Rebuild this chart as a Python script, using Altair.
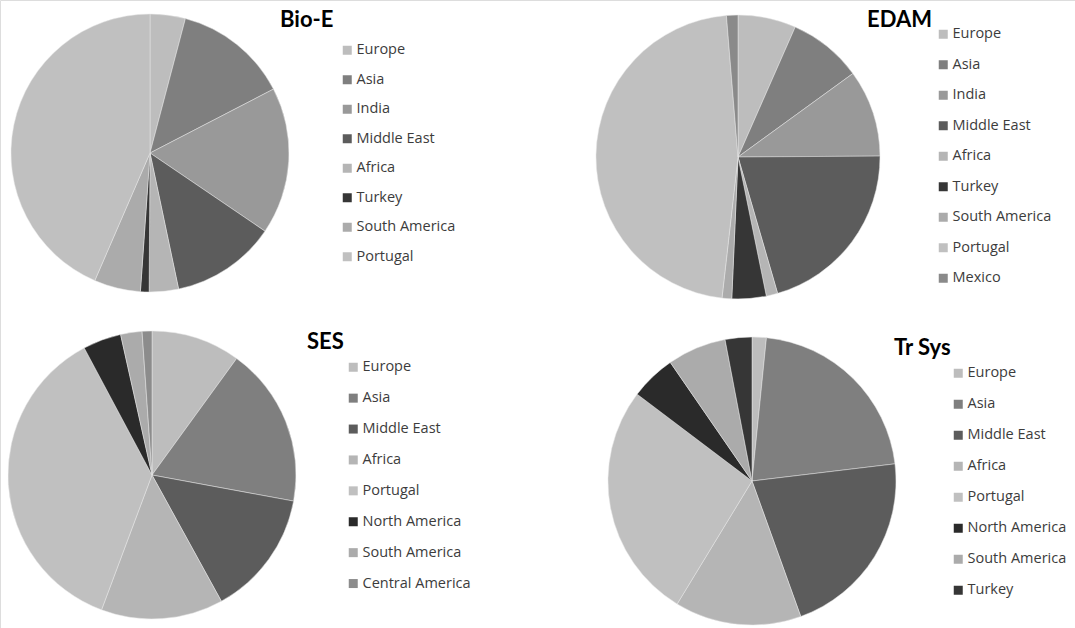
import altair as alt
import pandas as pd

# ---- data (percent shares) ----
bio_regions = ["Europe", "Asia", "India", "Middle East", "Africa", "Turkey", "South America", "Portugal"]
bio_values = [4.1, 13.3, 17.1, 12.2, 3.4, 1.0, 5.4, 43.5]

edam_regions = ["Europe", "Asia", "India", "Middle East", "Africa", "Turkey", "South America", "Portugal", "Mexico"]
edam_values = [6.6, 8.4, 9.9, 20.6, 1.3, 3.9, 1.1, 46.9, 1.3]

ses_regions = ["Europe", "Asia", "Middle East", "Africa", "Portugal", "North America", "South America", "Central America"]
ses_values = [10.0, 17.9, 14.1, 13.7, 36.5, 4.3, 2.4, 1.1]

tr_regions = ["Europe", "Asia", "Middle East", "Africa", "Portugal", "North America", "South America", "Turkey"]
tr_values = [1.6, 21.5, 21.4, 14.2, 26.6, 5.1, 6.6, 3.0]

titles = ["Bio-E", "EDAM", "SES", "Tr Sys"]

# grey shades per region
shade = {
    "Europe": "#bdbdbd",
    "Asia": "#7f7f7f",
    "India": "#999999",
    "Middle East": "#5c5c5c",
    "Africa": "#b5b5b5",
    "Turkey": "#363636",
    "South America": "#ababab",
    "Portugal": "#c0c0c0",
    "Mexico": "#8a8a8a",
    "North America": "#2a2a2a",
    "Central America": "#8c8c8c",
}

TITLE_FONT = "Lato"
LABEL_FONT = "Open Sans"


def pie(regions, values, cx, cy, r, lx, ly, row_pad):
    df = pd.DataFrame({"region": regions, "share": values, "idx": list(range(len(regions)))})
    return (
        alt.Chart(df)
        .mark_arc(radius=r, stroke="#e6e6e6", strokeWidth=0.5)
        .encode(
            theta=alt.Theta("share:Q", stack=True),
            order=alt.Order("idx:Q"),
            color=alt.Color(
                "region:N",
                sort=regions,
                scale=alt.Scale(domain=regions, range=[shade[g] for g in regions]),
                legend=alt.Legend(
                    orient="none",
                    legendX=lx,
                    legendY=ly,
                    title=None,
                    padding=0,
                    symbolType="square",
                    symbolSize=81,
                    symbolStrokeWidth=0,
                    labelFont=LABEL_FONT,
                    labelFontSize=14.5,
                    labelColor="#3c3c3c",
                    labelOffset=2,
                    rowPadding=row_pad,
                ),
            ),
            x=alt.value(cx),
            y=alt.value(cy),
        )
    )


def title_text(t, x, y):
    df = pd.DataFrame({"t": [t]})
    return (
        alt.Chart(df)
        .mark_text(font=TITLE_FONT, fontSize=22, fontWeight="bold", color="#000000", align="left", baseline="middle")
        .encode(text="t:N", x=alt.value(x), y=alt.value(y))
    )


layers = [
    pie(bio_regions, bio_values, 150, 153, 139, 340, 43, 14.5),
    pie(edam_regions, edam_values, 738, 157, 142, 936, 27, 15.5),
    pie(ses_regions, ses_values, 152, 475, 144, 346, 360, 15.9),
    pie(tr_regions, tr_values, 752, 481, 144, 951, 366, 16.0),
    title_text(titles[0], 280, 20),
    title_text(titles[1], 867, 20),
    title_text(titles[2], 307, 342),
    title_text(titles[3], 894, 348),
]

chart = (
    alt.layer(*layers)
    .resolve_scale(color="independent", theta="independent")
    .resolve_legend(color="independent")
    .properties(width=1075, height=628, autosize=alt.AutoSizeParams(type="none"), padding=0)
    .configure_view(strokeWidth=0)
    .configure(background="#ffffff")
)

chart.save("out.html", embed_options={"renderer": "svg", "actions": False})
